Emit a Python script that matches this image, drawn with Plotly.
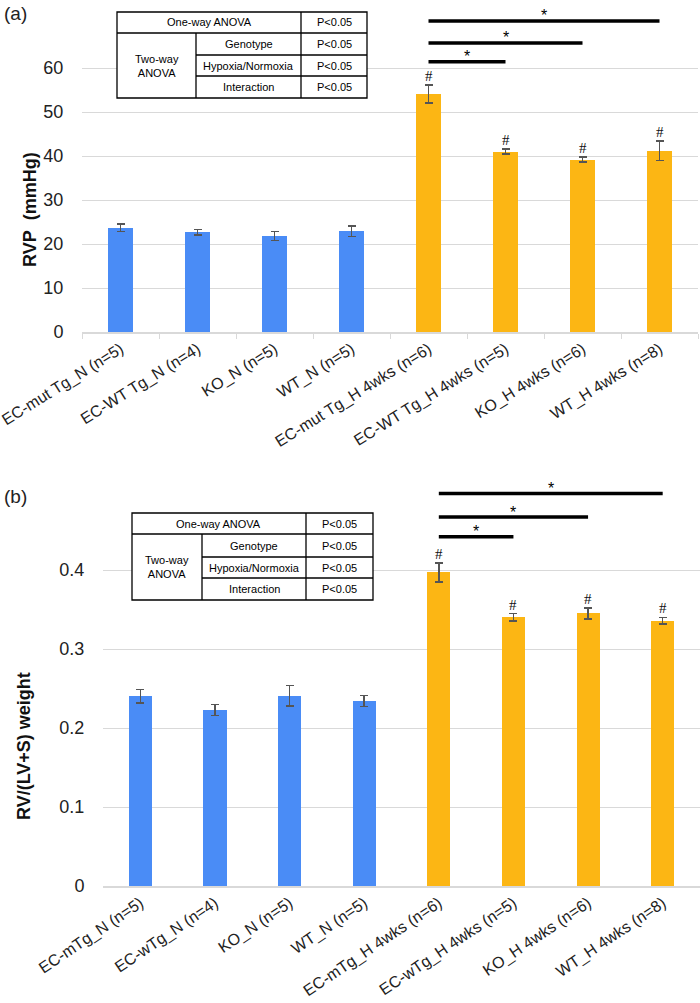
import plotly.graph_objects as go

# ---------------- data ----------------
cats_a = ["EC-mut Tg_N (n=5)", "EC-WT Tg_N (n=4)", "KO_N (n=5)", "WT_N (n=5)",
          "EC-mut Tg_H 4wks (n=6)", "EC-WT Tg_H 4wks (n=5)", "KO_H 4wks (n=6)", "WT_H 4wks (n=8)"]
rvp = [23.7, 22.7, 21.8, 22.9, 54.1, 41.0, 39.2, 41.2]
rvp_err = [0.9, 0.6, 1.0, 1.2, 2.0, 0.55, 0.6, 2.2]

cats_b = ["EC-mTg_N (n=5)", "EC-wTg_N (n=4)", "KO_N (n=5)", "WT_N (n=5)",
          "EC-mTg_H 4wks (n=6)", "EC-wTg_H 4wks (n=5)", "KO_H 4wks (n=6)", "WT_H 4wks (n=8)"]
ratio = [0.240, 0.223, 0.241, 0.234, 0.397, 0.340, 0.345, 0.336]
ratio_err = [0.0085, 0.007, 0.013, 0.007, 0.012, 0.0047, 0.007, 0.004]

condition = ["N", "N", "N", "N", "H", "H", "H", "H"]
hash_flag = [False, False, False, False, True, True, True, True]

# significance brackets: (from index, to index, height)
sig_a = [(4, 7, 70.7), (4, 6, 65.7), (4, 5, 61.4)]
sig_b = [(4, 7, 0.497), (4, 6, 0.467), (4, 5, 0.442)]

table_rows = [("One-way ANOVA", "P<0.05"), ("Genotype", "P<0.05"),
              ("Hypoxia/Normoxia", "P<0.05"), ("Interaction", "P<0.05")]

# ---------------- style ----------------
W, H = 700, 1003
BLUE = "#4a8cf6"
ORANGE = "#fcb614"
GRID = "#d9d9d9"
FONT = "Liberation Sans, Arial, sans-serif"
colmap = {"N": BLUE, "H": ORANGE}


def px(x):
    return x / W


def py(y):
    return 1 - y / H


fig = go.Figure()

fig.add_trace(go.Bar(
    x=cats_a, y=rvp, width=0.32,
    marker=dict(color=[colmap[c] for c in condition], line=dict(width=0)),
    error_y=dict(type="data", array=rvp_err, color="#555555", thickness=1.5, width=4),
    xaxis="x", yaxis="y", showlegend=False, hoverinfo="x+y"))

fig.add_trace(go.Bar(
    x=cats_b, y=ratio, width=0.31,
    marker=dict(color=[colmap[c] for c in condition], line=dict(width=0)),
    error_y=dict(type="data", array=ratio_err, color="#555555", thickness=1.5, width=4),
    xaxis="x2", yaxis="y2", showlegend=False, hoverinfo="x+y"))

common_y = dict(showline=False, showgrid=True, gridcolor=GRID, gridwidth=1,
                zeroline=False, ticks="outside", ticklen=14, tickcolor="rgba(0,0,0,0)",
                automargin=False,
                tickfont=dict(family=FONT, size=18, color="#222"))

fig.update_layout(
    width=W, height=H,
    margin=dict(l=0, r=0, t=0, b=0, autoexpand=False),
    paper_bgcolor="white", plot_bgcolor="white",
    font=dict(family=FONT, color="#222"),
    bargap=0,
    xaxis=dict(domain=[px(82), px(698)], range=[-0.5, 7.5], type="category",
               showline=True, linecolor=GRID, linewidth=1.5, showgrid=False,
               ticks="outside", tickson="boundaries", ticklen=5, tickcolor=GRID,
               tickangle=-32, tickfont=dict(family=FONT, size=16, color="#222"),
               automargin=False, anchor="y"),
    yaxis=dict(domain=[py(332), py(2)], range=[0, 75], tickmode="array",
               tickvals=[0, 10, 20, 30, 40, 50, 60], anchor="x", **common_y),
    xaxis2=dict(domain=[px(103), 1.0], range=[-0.5, 7.5], type="category",
                showline=True, linecolor=GRID, linewidth=1.5, showgrid=False,
                ticks="", tickangle=-34,
                tickfont=dict(family=FONT, size=16, color="#222"),
                automargin=False, anchor="y2"),
    yaxis2=dict(domain=[py(886), py(480)], range=[0, 0.514], tickmode="array",
                tickvals=[0, 0.1, 0.2, 0.3, 0.4], ticktext=["0", "0.1", "0.2", "0.3", "0.4"],
                anchor="x2", **common_y),
)

shapes = []
annotations = []

# hash markers
for ax, cats, vals, errs in (("", cats_a, rvp, rvp_err), ("2", cats_b, ratio, ratio_err)):
    for c, v, e, f in zip(cats, vals, errs, hash_flag):
        if f:
            annotations.append(dict(x=c, y=v + e, xref="x" + ax, yref="y" + ax,
                                    text="#", showarrow=False, yanchor="middle", yshift=9,
                                    font=dict(family="Liberation Serif, serif", size=15, color="#111")))

# significance brackets
for ax, sig in (("", sig_a), ("2", sig_b)):
    for i0, i1, h in sig:
        shapes.append(dict(type="line", xref="x" + ax, yref="y" + ax, x0=i0, x1=i1, y0=h, y1=h,
                           line=dict(color="black", width=3.5)))
        annotations.append(dict(x=(i0 + i1) / 2, y=h, xref="x" + ax, yref="y" + ax, text="*",
                                showarrow=False, yanchor="middle", yshift=5,
                                font=dict(family=FONT, size=16, color="black")))


# ANOVA tables
def add_table(cols, rows):
    x0, x1, x2, x3 = cols
    r0, r1, r2, r3, r4 = rows
    lw = dict(color="black", width=1.3)
    shapes.append(dict(type="rect", xref="paper", yref="paper", x0=px(x0), x1=px(x3),
                       y0=py(r4), y1=py(r0), fillcolor="white", line=lw, layer="above"))
    shapes.append(dict(type="line", xref="paper", yref="paper", x0=px(x0), x1=px(x3),
                       y0=py(r1), y1=py(r1), line=lw))
    for r in (r2, r3):
        shapes.append(dict(type="line", xref="paper", yref="paper", x0=px(x1), x1=px(x3),
                           y0=py(r), y1=py(r), line=lw))
    shapes.append(dict(type="line", xref="paper", yref="paper", x0=px(x2), x1=px(x2),
                       y0=py(r4), y1=py(r0), line=lw))
    shapes.append(dict(type="line", xref="paper", yref="paper", x0=px(x1), x1=px(x1),
                       y0=py(r4), y1=py(r1), line=lw))
    tf = dict(family=FONT, size=11, color="black")
    rb = [r0, r1, r2, r3, r4]
    for k, (lab, p) in enumerate(table_rows):
        yc = (rb[k] + rb[k + 1]) / 2
        xc = (x0 + x2) / 2 if k == 0 else (x1 + x2) / 2
        annotations.append(dict(x=px(xc), y=py(yc), xref="paper", yref="paper", text=lab,
                                showarrow=False, font=tf, xanchor="center", yanchor="middle"))
        annotations.append(dict(x=px((x2 + x3) / 2), y=py(yc), xref="paper", yref="paper",
                                text=p, showarrow=False, font=tf, xanchor="center",
                                yanchor="middle"))
    annotations.append(dict(x=px((x0 + x1) / 2), y=py((r1 + r4) / 2), xref="paper",
                            yref="paper", text="Two-way<br>ANOVA", showarrow=False, font=tf,
                            xanchor="center", yanchor="middle"))


add_table((117, 196, 301, 367), (12, 33, 55, 76, 98))
add_table((132, 202, 306, 373), (513, 534, 557, 578, 600))

# panel letters and axis titles
annotations.append(dict(x=px(2), y=py(14), xref="paper", yref="paper", text="(a)",
                        showarrow=False, xanchor="left", yanchor="middle",
                        font=dict(family=FONT, size=19, color="#222")))
annotations.append(dict(x=px(2), y=py(496), xref="paper", yref="paper", text="(b)",
                        showarrow=False, xanchor="left", yanchor="middle",
                        font=dict(family=FONT, size=19, color="#222")))
annotations.append(dict(x=px(30), y=py(210), xref="paper", yref="paper",
                        text="<b>RVP\u00a0\u00a0(mmHg)</b>", textangle=-90, showarrow=False,
                        xanchor="center", yanchor="middle",
                        font=dict(family=FONT, size=18, color="#111")))
annotations.append(dict(x=px(24), y=py(746), xref="paper", yref="paper",
                        text="<b>RV/(LV+S) weight</b>", textangle=-90, showarrow=False,
                        xanchor="center", yanchor="middle",
                        font=dict(family=FONT, size=18, color="#111")))

fig.update_layout(shapes=shapes, annotations=annotations)
fig.write_html("out.html", config={"displayModeBar": False},
               post_script="document.body.style.margin='0';document.body.style.overflow='hidden';")
